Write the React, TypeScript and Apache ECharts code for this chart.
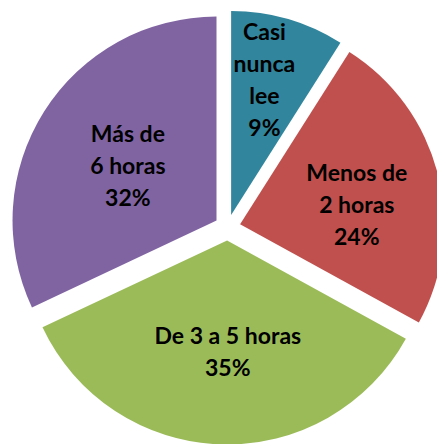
import React, { useEffect, useRef } from "react";
import * as echarts from "echarts";

const categories = ["Casi\nnunca\nlee", "Menos de\n2 horas", "De 3 a 5 horas", "Más de\n6 horas"];
const values = [9, 24, 35, 32];
const colors = ["#31859C", "#C0504D", "#9BBB59", "#8064A2"];
const labelShift = [
  [4, -35],
  [15, 6],
  [4, 6],
  [0, 1],
];

export default function App() {
  const ref = useRef<HTMLDivElement>(null);
  useEffect(() => {
    if (!ref.current) return;
    const chart = echarts.init(ref.current, null, { renderer: "svg" });
    chart.setOption({
      animation: false,
      backgroundColor: "#ffffff",
      series: [
        {
          type: "pie",
          center: [227.5, 227.5],
          radius: [0, 204],
          startAngle: 90,
          clockwise: true,
          selectedMode: "multiple",
          selectedOffset: 13,
          avoidLabelOverlap: false,
          emphasis: { disabled: true },
          itemStyle: { borderWidth: 0 },
          label: {
            show: true,
            position: "inner",
            formatter: (p: any) => `${p.name}\n${p.percent.toFixed(0)}%`,
            color: "#000000",
            fontFamily: "Lato",
            fontWeight: "bold",
            fontSize: 23,
            lineHeight: 32,
            align: "center",
          },
          labelLine: { show: false },
          labelLayout: (p: any) => ({ dx: labelShift[p.dataIndex][0], dy: labelShift[p.dataIndex][1] }),
          data: categories.map((name, i) => ({
            name,
            value: values[i],
            selected: true,
            itemStyle: { color: colors[i] },
          })),
        },
      ],
    });
    return () => chart.dispose();
  }, []);
  return (
    <div
      ref={ref}
      style={{ position: "fixed", left: 0, top: 0, width: 437, height: 444 }}
    />
  );
}
